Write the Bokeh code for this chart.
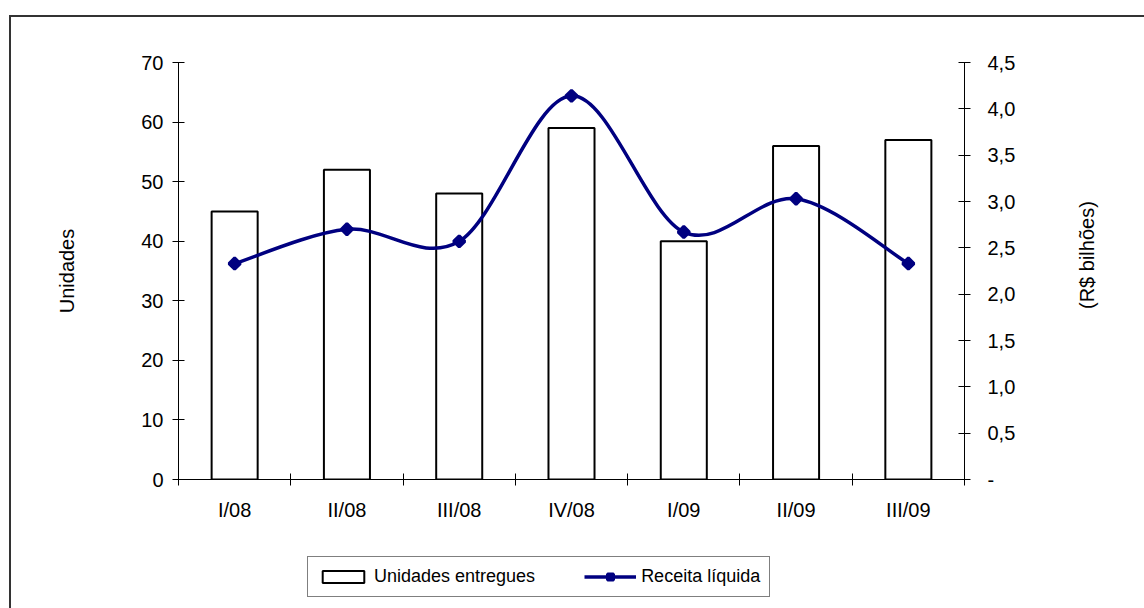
import numpy as np
from bokeh.plotting import figure
from bokeh.layouts import column
from bokeh.models import (Range1d, LinearAxis, FixedTicker, CustomJSTickFormatter,
                          Legend, LegendItem, InlineStyleSheet)
from bokeh.embed import file_html
from bokeh.resources import INLINE

# Quarterly deliveries (units) and net revenue (R$ billions)
quarters = ["I/08", "II/08", "III/08", "IV/08", "I/09", "II/09", "III/09"]
units = [45, 52, 48, 59, 40, 56, 57]
revenue = [2.33, 2.70, 2.57, 4.14, 2.67, 3.03, 2.33]
units_ticks = [0, 10, 20, 30, 40, 50, 60, 70]
revenue_ticks = [0, 0.5, 1.0, 1.5, 2.0, 2.5, 3.0, 3.5, 4.0, 4.5]
left_title = "Unidades"
right_title = "(R$ bilhões)"

FONT = "Liberation Sans"
NAVY = "#000080"
TICK_SIZE = "20px"
BAR_STYLE = dict(fill_color="white", line_color="black", line_width=2)
LINE_STYLE = dict(line_color=NAVY, line_width=3.5)
DOT_STYLE = dict(marker="square", angle=np.pi / 4, fill_color=NAVY,
                 line_color=NAVY, line_width=3)

n = len(quarters)
xs = [i + 0.5 for i in range(n)]

p = figure(width=1133, height=530,
           x_range=Range1d(0, n), y_range=Range1d(units_ticks[0], units_ticks[-1]),
           output_backend="svg", toolbar_location=None,
           min_border_left=167, min_border_right=180,
           min_border_top=45, min_border_bottom=68)
p.extra_y_ranges = {"rev": Range1d(revenue_ticks[0], revenue_ticks[-1])}
p.xgrid.visible = False
p.ygrid.visible = False
p.outline_line_color = None
p.background_fill_color = "white"
p.border_fill_color = "white"

# bars: units delivered
p.vbar(x=xs, top=units, width=0.41, **BAR_STYLE)

# smoothed revenue line: Catmull-Rom segments as cubic Beziers
px = np.array(xs, dtype=float)
py = np.array(revenue, dtype=float)
ppx = np.concatenate([[px[0]], px, [px[-1]]])
ppy = np.concatenate([[py[0]], py, [py[-1]]])
x0, y0 = px[:-1], py[:-1]
x1, y1 = px[1:], py[1:]
cx0 = x0 + (x1 - ppx[0:n - 1]) / 6.0
cy0 = y0 + (y1 - ppy[0:n - 1]) / 6.0
cx1 = x1 - (ppx[3:n + 2] - x0) / 6.0
cy1 = y1 - (ppy[3:n + 2] - y0) / 6.0
p.bezier(x0=x0, y0=y0, x1=x1, y1=y1, cx0=cx0, cy0=cy0, cx1=cx1, cy1=cy1,
         y_range_name="rev", **LINE_STYLE)
p.scatter(xs, revenue, size=8, y_range_name="rev", **DOT_STYLE)

# x axis: labels centred in each category, ticks on category boundaries
xa = p.xaxis[0]
xa.ticker = FixedTicker(ticks=xs, minor_ticks=list(range(n + 1)))
xa.formatter = CustomJSTickFormatter(args=dict(labels=quarters),
                                     code="return labels[Math.floor(tick)];")
xa.major_tick_line_color = None
xa.major_tick_out = 6
xa.major_tick_in = 0
xa.minor_tick_line_color = "black"
xa.minor_tick_in = 6
xa.minor_tick_out = 6
xa.major_label_standoff = 13

# left axis: units
ya = p.yaxis[0]
ya.ticker = FixedTicker(ticks=units_ticks, minor_ticks=[])
ya.major_tick_in = 6
ya.major_tick_out = 6
ya.major_label_standoff = 9
ya.axis_label = left_title
ya.axis_label_standoff = 60

# right axis: revenue
ra = LinearAxis(y_range_name="rev")
ra.ticker = FixedTicker(ticks=revenue_ticks, minor_ticks=[])
ra.formatter = CustomJSTickFormatter(
    code="return tick == 0 ? '-' : tick.toFixed(1).replace('.', ',');")
ra.major_tick_in = 6
ra.major_tick_out = 6
ra.major_label_standoff = 17
p.add_layout(ra, "right")

# right-hand title, written bottom-to-top, carried by a bare outer axis
rt = LinearAxis(y_range_name="rev")
rt.ticker = FixedTicker(ticks=[1.84], minor_ticks=[])
rt.formatter = CustomJSTickFormatter(args=dict(title=right_title), code="return title;")
rt.major_label_orientation = np.pi / 2
rt.axis_line_color = None
rt.major_tick_line_color = None
rt.major_tick_in = 0
rt.major_tick_out = 0
rt.major_label_standoff = 69
p.add_layout(rt, "right")

for ax in (xa, ya, ra, rt):
    ax.axis_line_width = 1
    ax.major_tick_line_width = 1
    ax.major_label_text_font = FONT
    ax.major_label_text_font_size = TICK_SIZE
    ax.major_label_text_color = "black"
    ax.axis_label_text_font = FONT
    ax.axis_label_text_font_size = TICK_SIZE
    ax.axis_label_text_font_style = "normal"
    ax.axis_label_text_color = "black"
for ax in (xa, ya, ra):
    ax.axis_line_color = "black"
ya.major_tick_line_color = "black"
ra.major_tick_line_color = "black"

# legend strip below the chart; its swatch renderers carry the series styles
# but are hidden, so only the legend entries themselves are drawn
leg = figure(width=1133, height=61, x_range=Range1d(0, 1), y_range=Range1d(0, 1),
             x_axis_type=None, y_axis_type=None,
             output_backend="svg", toolbar_location=None,
             min_border_left=0, min_border_right=0, min_border_top=0, min_border_bottom=0)
leg.outline_line_color = None
leg.background_fill_color = "white"
leg.border_fill_color = "white"
swatch_bar = leg.vbar(x=xs, top=units, width=0.41, visible=False, **BAR_STYLE)
swatch_line = leg.line(x=xs, y=revenue, visible=False, **LINE_STYLE)
swatch_dot = leg.scatter(x=xs, y=revenue, size=8, visible=False, **DOT_STYLE)
legend = Legend(items=[LegendItem(label="Unidades entregues", renderers=[swatch_bar]),
                       LegendItem(label="Receita líquida", renderers=[swatch_line, swatch_dot])],
                orientation="horizontal", location=(129, 11),
                border_line_color="black", border_line_width=1,
                background_fill_color="white", background_fill_alpha=1,
                inactive_fill_alpha=0,
                padding=9, spacing=49, margin=0,
                glyph_width=52, glyph_height=15, label_standoff=5,
                label_text_font=FONT, label_text_font_size="18px",
                label_text_color="black")
leg.add_layout(legend, "center")

# whole chart framed by a thin dark border on its left and top edges
frame_css = InlineStyleSheet(css=":host { border-left: 2px solid #333333; border-top: 2px solid #333333; }")
page = column(p, leg, margin=(15, 0, 0, 9), spacing=0, stylesheets=[frame_css])

open("out.html", "w").write(file_html(page, INLINE))
